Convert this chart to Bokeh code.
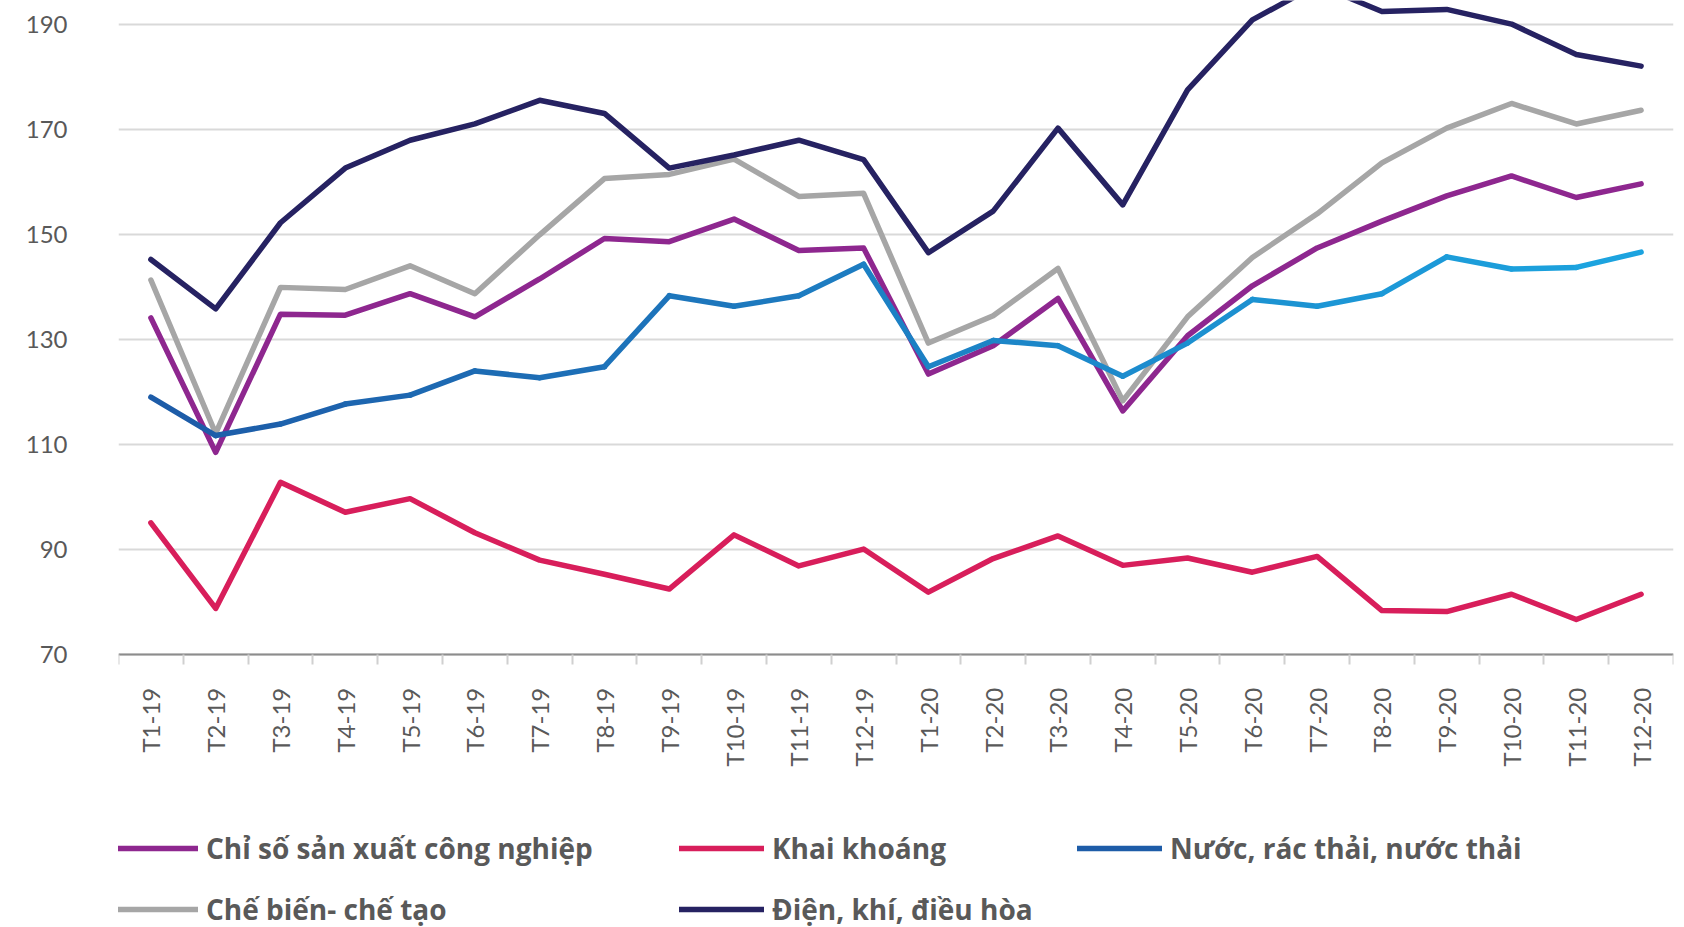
import math
from bokeh.plotting import figure
from bokeh.models import Range1d, FixedTicker, Legend, LegendItem
from bokeh.embed import file_html
from bokeh.resources import INLINE

months = ["T1-19", "T2-19", "T3-19", "T4-19", "T5-19", "T6-19", "T7-19", "T8-19",
          "T9-19", "T10-19", "T11-19", "T12-19", "T1-20", "T2-20", "T3-20", "T4-20",
          "T5-20", "T6-20", "T7-20", "T8-20", "T9-20", "T10-20", "T11-20", "T12-20"]

chi_so = [134.1, 108.5, 134.8, 134.6, 138.7, 134.3, 141.5, 149.2, 148.6, 152.9, 146.9, 147.4,
          123.4, 128.8, 137.8, 116.4, 130.7, 140.2, 147.4, 152.5, 157.3, 161.1, 157.0, 159.6]
khai_khoang = [95.1, 78.8, 102.8, 97.1, 99.7, 93.2, 88.0, 85.3, 82.5, 92.8, 86.9, 90.1,
               81.9, 88.3, 92.6, 87.0, 88.4, 85.7, 88.7, 78.4, 78.2, 81.5, 76.7, 81.5]
nuoc = [119.0, 111.7, 113.9, 117.7, 119.4, 124.0, 122.7, 124.8, 138.3, 136.3, 138.3, 144.3,
        124.8, 129.8, 128.8, 123.0, 129.3, 137.6, 136.3, 138.7, 145.7, 143.4, 143.7, 146.6]
che_bien = [141.3, 112.1, 139.9, 139.5, 144.0, 138.7, 149.9, 160.6, 161.4, 164.3, 157.2, 157.8,
            129.3, 134.5, 143.5, 118.3, 134.3, 145.6, 153.9, 163.6, 170.2, 174.9, 171.0, 173.6]
dien = [145.2, 135.8, 152.2, 162.6, 167.9, 171.0, 175.5, 173.0, 162.6, 165.1, 167.9, 164.2,
        146.5, 154.4, 170.2, 155.6, 177.5, 190.8, 197.5, 192.4, 192.8, 190.0, 184.2, 182.0]

series_names = ["Chỉ số sản xuất công nghiệp", "Khai khoáng", "Nước, rác thải, nước thải",
                "Chế biến- chế tạo", "Điện, khí, điều hòa"]
y_ticks = [70, 90, 110, 130, 150, 170, 190]

x = list(range(len(months)))

# frame spans the whole height; the x axis sits at y = 70 and the legend below it
p = figure(width=1684, height=927, output_backend="svg", toolbar_location=None,
           x_range=Range1d(-0.5, len(months) - 0.5), y_range=Range1d(18.09, 194.49),
           min_border_left=118, min_border_right=11, min_border_top=0, min_border_bottom=0)
p.outline_line_color = None
p.background_fill_color = "white"

p.xgrid.visible = False
p.ygrid.ticker = FixedTicker(ticks=y_ticks)
p.ygrid.grid_line_color = "#D9D9D9"
p.ygrid.grid_line_width = 2

p.yaxis.ticker = FixedTicker(ticks=y_ticks)
p.yaxis.axis_line_color = None
p.yaxis.major_tick_line_color = None
p.yaxis.minor_tick_line_color = None
p.yaxis.major_tick_out = 0
p.yaxis.major_label_standoff = 51
p.yaxis.major_label_text_font = "Lato"
p.yaxis.major_label_text_font_size = "24px"
p.yaxis.major_label_text_color = "#595959"

xa = p.xaxis[0]
xa.fixed_location = y_ticks[0]
xa.ticker = FixedTicker(ticks=x, minor_ticks=[i - 0.5 for i in range(len(months) + 1)])
xa.major_label_overrides = {i: m for i, m in enumerate(months)}
xa.major_tick_line_color = None
xa.major_tick_out = 0
xa.major_tick_in = 0
xa.minor_tick_out = 10
xa.minor_tick_in = 0
xa.minor_tick_line_color = "#D0D0D0"
xa.minor_tick_line_width = 2
xa.axis_line_color = "#8C8C8C"
xa.axis_line_width = 2
xa.major_label_orientation = math.pi / 2
xa.major_label_standoff = 23
xa.major_label_text_font = "Lato"
xa.major_label_text_font_size = "24px"
xa.major_label_text_color = "#595959"

lw = 5.5
r_chi = p.line(x, chi_so, line_color="#8E278F", line_width=lw, line_join="round", line_cap="round")
r_khai = p.line(x, khai_khoang, line_color="#D81E5B", line_width=lw, line_join="round", line_cap="round")
r_che = p.line(x, che_bien, line_color="#A6A6A6", line_width=lw, line_join="round", line_cap="round")

# gradient blue line drawn as segments
c0 = (0x1D, 0x5C, 0xA8)
c1 = (0x1C, 0xA3, 0xDF)
nseg = len(months) - 1
seg_colors = []
for i in range(nseg):
    t = i / (nseg - 1)
    seg_colors.append("#%02X%02X%02X" % tuple(int(round(a + (b - a) * t)) for a, b in zip(c0, c1)))
r_nuoc = p.segment(x0=x[:-1], y0=nuoc[:-1], x1=x[1:], y1=nuoc[1:], line_color=seg_colors,
                   line_width=lw, line_cap="round")
r_dien = p.line(x, dien, line_color="#262262", line_width=lw, line_join="round", line_cap="round")


def make_legend(items, loc):
    leg = Legend(items=items, location=loc, orientation="vertical")
    leg.label_text_font = "Open Sans"
    leg.label_text_font_style = "bold"
    leg.label_text_font_size = "28px"
    leg.label_text_color = "#595959"
    leg.glyph_width = 85
    leg.glyph_height = 40
    leg.label_height = 40
    leg.spacing = 21
    leg.label_standoff = 8
    leg.padding = 0
    leg.margin = 0
    leg.border_line_color = None
    leg.background_fill_alpha = 0
    return leg


leg1 = make_legend([LegendItem(label=series_names[0], renderers=[r_chi]),
                    LegendItem(label=series_names[3], renderers=[r_che])], (-5, -2))
leg2 = make_legend([LegendItem(label=series_names[1], renderers=[r_khai]),
                    LegendItem(label=series_names[4], renderers=[r_dien])], (561, -2))
leg3 = make_legend([LegendItem(label=series_names[2], renderers=[r_nuoc])], (959, 59))
for lg in (leg1, leg2, leg3):
    p.add_layout(lg, "center")

open("out.html", "w").write(file_html(p, INLINE))
